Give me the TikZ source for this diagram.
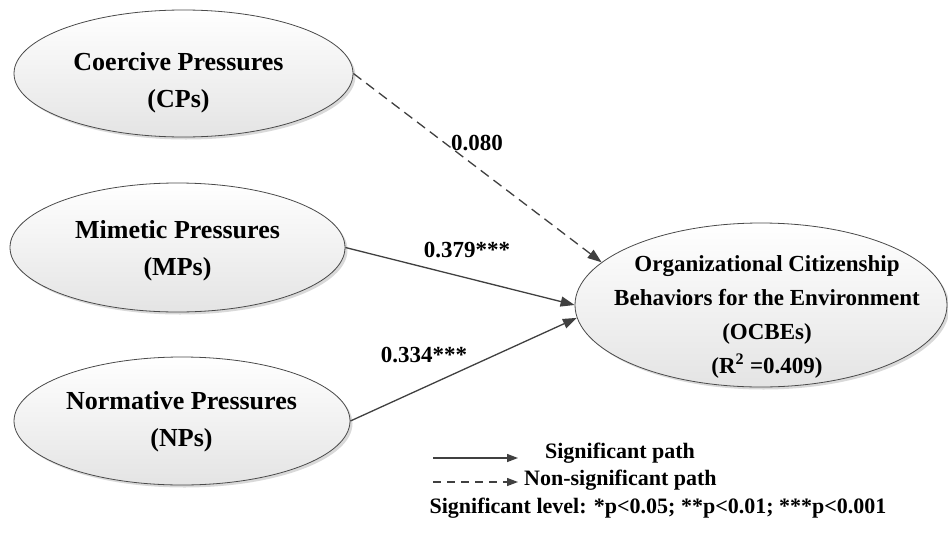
\documentclass[tikz,border=0pt]{standalone}
\usepackage{fontspec}
\setmainfont{Liberation Serif}
\usetikzlibrary{shapes.geometric,arrows.meta,shadows}
\definecolor{linec}{HTML}{404040}
\definecolor{edgec}{HTML}{4A4A4A}
\definecolor{fillb}{HTML}{E4E4E4}
\begin{document}
\begin{tikzpicture}[x=1pt,y=-1pt,
  ell/.style={ellipse, draw=edgec, line width=0.8pt, top color=white, bottom color=fillb,
    inner sep=0pt, drop shadow={shadow xshift=2.5pt, shadow yshift=-2.5pt, fill=black, opacity=0.15}},
  lbl/.style={font=\bfseries\fontsize{26}{37}\selectfont, align=center, inner sep=0pt},
  olbl/.style={font=\bfseries\fontsize{23}{34.3}\selectfont, align=center, inner sep=0pt},
  coef/.style={font=\bfseries\fontsize{23}{28}\selectfont, inner sep=0pt},
  leg/.style={font=\bfseries\fontsize{22}{26}\selectfont, inner sep=0pt},
  sigpath/.style={draw=linec, line width=1.3pt, -{Triangle[length=14pt,width=10pt]}},
  nspath/.style={sigpath, dash pattern=on 10pt off 6pt}
]
\useasboundingbox (0,0) rectangle (948,533);
\fill[white] (0,0) rectangle (948,533);

% ellipses
\node[ell, minimum width=339pt, minimum height=127pt] (cp) at (183.5,73.5) {};
\node[ell, minimum width=335pt, minimum height=129pt] (mp) at (177.5,247.5) {};
\node[ell, minimum width=336pt, minimum height=128pt] (np) at (182,421) {};
\node[ell, minimum width=372pt, minimum height=164pt] (ocbe) at (761,305) {};

% texts
\node[lbl] (cpt) at (178.5,83) {Coercive Pressures\\(CPs)};
\node[lbl] (mpt) at (177.5,250.5) {Mimetic Pressures\\(MPs)};
\node[lbl] (npt) at (181.5,422) {Normative Pressures\\(NPs)};
\node[olbl] (ocbet) at (767,317) {Organizational Citizenship\\Behaviors for the Environment\\(OCBEs)\\(R\textsuperscript{2} =0.409)};

% paths
\draw[nspath] (cp.east) -- (ocbe.165.8);
\draw[sigpath] (mp.east) -- (ocbe.west);
\draw[sigpath] (np.east) -- (ocbe.184);

% coefficients
\node[coef] (c1) at (477,143) {0.080};
\node[coef] (c2) at (467,250) {0.379***};
\node[coef] (c3) at (424,355) {0.334***};

% legend
\coordinate (l1a) at (433,458);
\coordinate (l1b) at (518,458);
\coordinate (l2a) at (433,482);
\coordinate (l2b) at (518,482);
\draw[sigpath, -{Triangle[length=11pt,width=8pt]}] (l1a) -- (l1b);
\draw[nspath, dash pattern=on 8pt off 6pt, -{Triangle[length=11pt,width=8pt]}] (l2a) -- (l2b);
\node[leg] (lt1) at (620,453) {Significant path};
\node[leg, anchor=west] (lt2) at (524,480) {Non-significant path};
\node[leg] (lt3) at (658,508) {Significant level: *p<0.05; **p<0.01; ***p<0.001};
\end{tikzpicture}
\end{document}
